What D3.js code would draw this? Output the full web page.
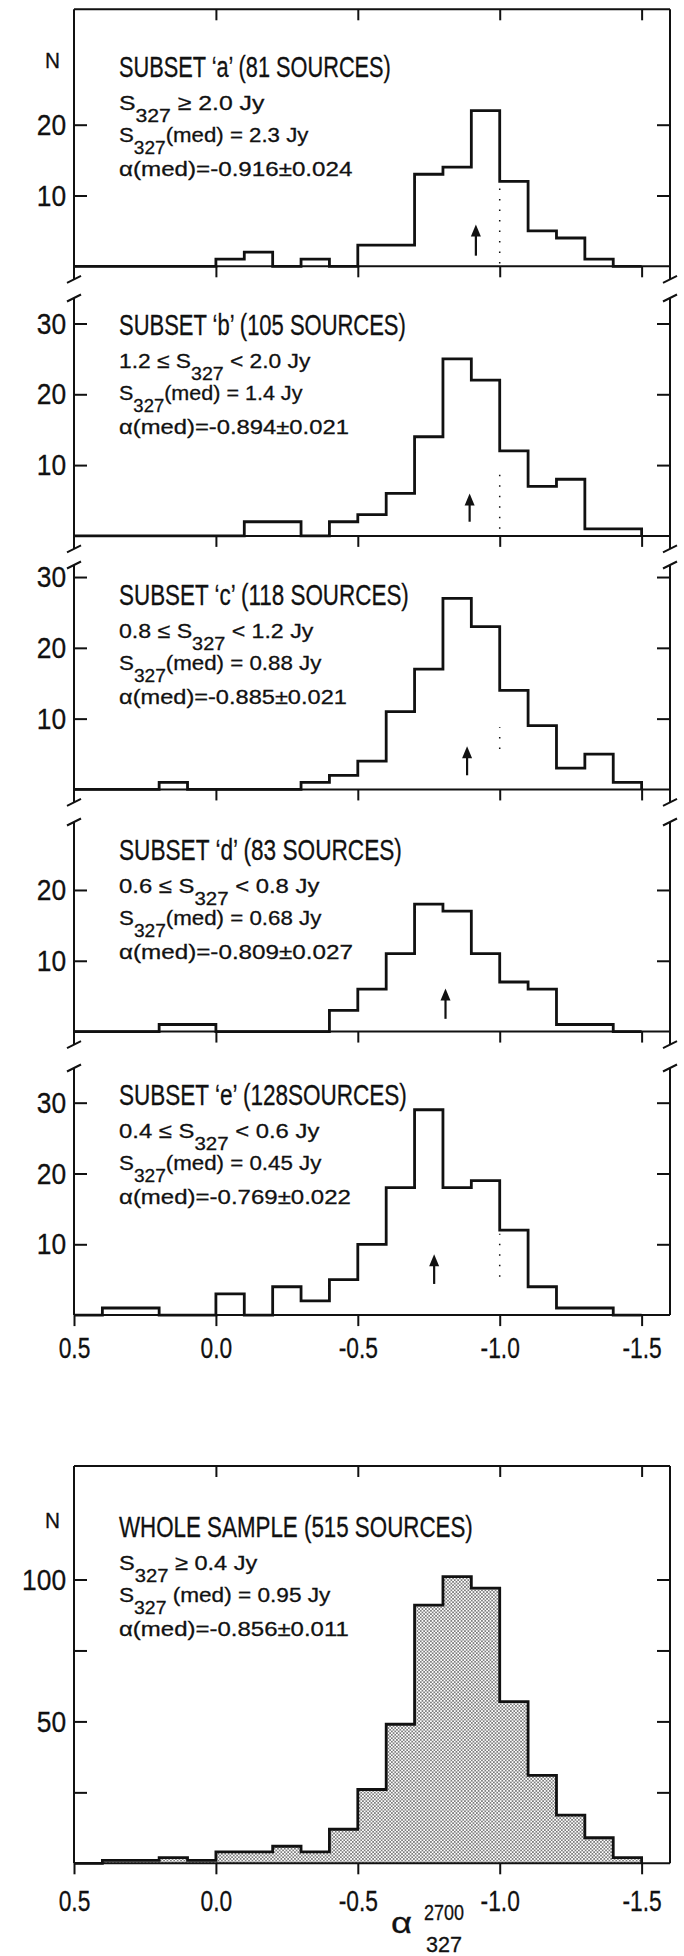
<!DOCTYPE html>
<html>
<head>
<meta charset="utf-8">
<script src="https://cdn.jsdelivr.net/npm/d3@7"></script>
<style>
  body { margin: 0; background: #fff; }
  svg { display: block; }
  text { font-family: "Liberation Sans", Arial, sans-serif; fill: #111; stroke: #111; stroke-width: 0.3; }
</style>
</head>
<body>
<svg width="684" height="1956"></svg>
<script>
// spectral index bins, 0.1 wide, running from +0.5 down to -1.5
const binEdges = d3.range(21).map(i => +(0.5 - 0.1 * i).toFixed(1));

// counts per bin (same order as binEdges)
const countsA = [0, 0, 0, 0, 0, 1, 2, 0, 1, 0, 3, 3, 13, 14, 22, 12, 5, 4, 1, 0];
const countsB = [0, 0, 0, 0, 0, 0, 2, 2, 0, 2, 3, 6, 14, 25, 22, 12, 7, 8, 1, 1];
const countsC = [0, 0, 0, 1, 0, 0, 0, 0, 1, 2, 4, 11, 17, 27, 23, 14, 9, 3, 5, 1];
const countsD = [0, 0, 0, 1, 1, 0, 0, 0, 0, 3, 6, 11, 18, 17, 11, 7, 6, 1, 1, 0];
const countsE = [0, 1, 1, 0, 0, 3, 0, 4, 2, 5, 10, 18, 29, 18, 19, 12, 4, 1, 1, 0];
const countsWhole = [0, 1, 1, 2, 1, 4, 4, 6, 4, 12, 26, 49, 91, 101, 97, 57, 31, 17, 9, 2];

const subsetCounts = [countsA, countsB, countsC, countsD, countsE];
const medians = [-0.916, -0.894, -0.885, -0.809, -0.769];
// arrow foot / tip, in counts
const arrowSpan = [[1.5, 5.9], [2, 6], [2, 6.1], [1.8, 6.1], [4.4, 8.6]];
// dotted marker at alpha = -1.0, in counts
const dotSpan = [[0.4, 11.4], [1, 9.9], [5.7, 8.8], null, [5.4, 11.5]];
const yMax = [36.3, 33.6, 31.7, 29.6, 34.9];
const yTicks = [[10, 20], [10, 20, 30], [10, 20, 30], [10, 20], [10, 20, 30]];
const wholeMax = 140;
const wholeTicks = [25, 50, 75, 100];
const xTicks = [0.5, 0, -0.5, -1, -1.5];

const titles = [
  "SUBSET \u2018a\u2019 (81 SOURCES)",
  "SUBSET \u2018b\u2019 (105 SOURCES)",
  "SUBSET \u2018c\u2019 (118 SOURCES)",
  "SUBSET \u2018d\u2019 (83 SOURCES)",
  "SUBSET \u2018e\u2019 (128SOURCES)",
  "WHOLE SAMPLE (515 SOURCES)"
];
const rangeLines = [
  ["S", "327", " \u2265 2.0 Jy"],
  ["1.2 \u2264 S", "327", " < 2.0 Jy"],
  ["0.8 \u2264 S", "327", " < 1.2 Jy"],
  ["0.6 \u2264 S", "327", " < 0.8 Jy"],
  ["0.4 \u2264 S", "327", " < 0.6 Jy"],
  ["S", "327", " \u2265 0.4 Jy"]
];
const medFluxLines = [
  ["S", "327", "(med) = 2.3 Jy"],
  ["S", "327", "(med) = 1.4 Jy"],
  ["S", "327", "(med) = 0.88 Jy"],
  ["S", "327", "(med) = 0.68 Jy"],
  ["S", "327", "(med) = 0.45 Jy"],
  ["S", "327", " (med) = 0.95 Jy"]
];
const medAlphaLines = [
  "\u03b1(med)=-0.916\u00b10.024",
  "\u03b1(med)=-0.894\u00b10.021",
  "\u03b1(med)=-0.885\u00b10.021",
  "\u03b1(med)=-0.809\u00b10.027",
  "\u03b1(med)=-0.769\u00b10.022",
  "\u03b1(med)=-0.856\u00b10.011"
];

// ---- layout ----
const ink = "#111";
const unitPx = 7.08;
const panelTop = [9.3, 298, 565, 822, 1068];
const wholeTop = 1466, wholeBase = 1863.3;
const textX = 119;
const lineOffsets = [0, 33, 65, 99];
const titleDrop = [68, 37, 40, 38, 37, 71];
// widths of the text blocks in the picture: title, range, median flux, median alpha
const textWidths = [
  [272, 146, 190, 234],
  [287, 192, 184, 230],
  [290, 195, 203, 228],
  [283, 201, 203, 234],
  [288, 201, 203, 232],
  [354, 139, 212, 230]
];

const svg = d3.select("svg");
const defs = svg.append("defs");
const pat = defs.append("pattern").attr("id", "stipple")
  .attr("patternUnits", "userSpaceOnUse").attr("width", 3.4).attr("height", 3.4);
pat.append("rect").attr("width", 3.4).attr("height", 3.4).attr("fill", "#fff");
pat.append("circle").attr("cx", 0.85).attr("cy", 0.85).attr("r", 0.8).attr("fill", "#444");
pat.append("circle").attr("cx", 2.55).attr("cy", 2.55).attr("r", 0.8).attr("fill", "#444");

const x = d3.scaleLinear().domain([0.5, -1.6]).range([74, 670]);
const fmtX = d => d.toFixed(1);

function stepPoints(counts) {
  const pts = [[binEdges[0], 0]];
  counts.forEach((c, i) => {
    pts.push([binEdges[i], c]);
    pts.push([binEdges[i + 1], c]);
  });
  pts.push([binEdges[binEdges.length - 1], 0]);
  return pts;
}

function slash(g, cx, cy) {
  g.append("path")
    .attr("d", `M${cx - 7},${cy + 3.5}L${cx + 7},${cy - 3.5}`)
    .attr("stroke", ink).attr("stroke-width", 2).attr("fill", "none");
}

function vline(g, fx, y1, y2, w) {
  g.append("line").attr("x1", fx).attr("x2", fx).attr("y1", y1).attr("y2", y2)
    .attr("stroke", ink).attr("stroke-width", w || 2);
}

// draw text at origin, then squeeze it horizontally to the measured width
function squeezeText(g, x0, y0, width, size, build) {
  const t = g.append("text").attr("font-size", size);
  build(t);
  const w = t.node().getBBox().width;
  t.attr("transform", `translate(${x0},${y0}) scale(${width / w},1)`);
}

function subLine(parts) {
  return t => {
    t.append("tspan").text(parts[0]);
    t.append("tspan").attr("dy", 12).attr("font-size", 18).text(parts[1]);
    t.append("tspan").attr("dy", -12).text(parts[2]);
  };
}

function panelText(g, i, top) {
  const y0 = top + titleDrop[i];
  const w = textWidths[i];
  squeezeText(g, textX, y0, w[0], 30, t => t.text(titles[i]));
  squeezeText(g, textX, y0 + lineOffsets[1], w[1], 21, subLine(rangeLines[i]));
  squeezeText(g, textX, y0 + lineOffsets[2], w[2], 21, subLine(medFluxLines[i]));
  squeezeText(g, textX, y0 + lineOffsets[3], w[3], 21, t => t.text(medAlphaLines[i]));
}

function styleAxis(sel, sx) {
  sel.select(".domain").remove();
  sel.selectAll(".tick line").attr("stroke", ink).attr("stroke-width", 2);
  sel.attr("font-size", 30).attr("font-family", null);
  sel.selectAll(".tick text").attr("fill", ink).attr("transform", `scale(${sx},1)`);
}

function yAxes(g, y, ticks, fmt) {
  g.append("g").attr("transform", `translate(${x.range()[0]},0)`)
    .call(d3.axisLeft(y).tickValues(ticks).tickSize(-13).tickPadding(9).tickFormat(fmt))
    .call(a => styleAxis(a, 0.88));
  g.append("g").attr("transform", `translate(${x.range()[1]},0)`)
    .call(d3.axisRight(y).tickValues(ticks).tickSize(-13).tickFormat(""))
    .call(a => styleAxis(a, 1));
}

function topTicks(g, top) {
  g.append("g").attr("transform", `translate(0,${top})`)
    .call(d3.axisTop(x).tickValues(xTicks.slice(1)).tickSize(-11).tickFormat(""))
    .call(a => styleAxis(a, 1));
}

function nLabel(g, ty) {
  squeezeText(g, 45, ty, 15, 22, t => t.text("N"));
}

const line = d3.line();

// ---- the five subsets ----
subsetCounts.forEach((counts, i) => {
  const top = panelTop[i];
  const base = top + yMax[i] * unitPx;
  const y = d3.scaleLinear().domain([0, yMax[i]]).range([base, top]);
  const g = svg.append("g");
  const first = i === 0, last = i === subsetCounts.length - 1;
  const low = last ? base : base + 13;

  x.range().forEach(fx => {
    vline(g, fx, top, low);
    if (!first) slash(g, fx, top);
    if (!last) slash(g, fx, low);
  });
  if (first) {
    g.append("line").attr("x1", x.range()[0]).attr("x2", x.range()[1])
      .attr("y1", top).attr("y2", top).attr("stroke", ink).attr("stroke-width", 2);
    topTicks(g, top);
    nLabel(g, top + 59);
  }

  yAxes(g, y, yTicks[i], d => d);

  const bottom = g.append("g").attr("transform", `translate(0,${base})`)
    .call(d3.axisBottom(x).tickValues(last ? xTicks : xTicks.slice(1))
      .tickSize(11).tickPadding(11).tickFormat(last ? fmtX : ""));
  styleAxis(bottom, 0.76);

  // baseline
  g.append("line").attr("x1", x.range()[0]).attr("x2", x.range()[1])
    .attr("y1", y(0)).attr("y2", y(0)).attr("stroke", ink).attr("stroke-width", 2);

  // histogram outline
  g.append("path")
    .attr("d", line(stepPoints(counts).map(p => [x(p[0]), y(p[1])])))
    .attr("fill", "none").attr("stroke", ink).attr("stroke-width", 2.8)
    .attr("stroke-linejoin", "miter");

  // dotted marker at alpha = -1
  if (dotSpan[i]) {
    g.append("line").attr("x1", x(-1)).attr("x2", x(-1))
      .attr("y1", y(dotSpan[i][0])).attr("y2", y(dotSpan[i][1]))
      .attr("stroke", ink).attr("stroke-width", 1.5).attr("stroke-dasharray", "1.5 9");
  }

  // median arrow
  const ax = x(medians[i]), y1 = y(arrowSpan[i][0]), y2 = y(arrowSpan[i][1]);
  g.append("line").attr("x1", ax).attr("x2", ax).attr("y1", y1).attr("y2", y2 + 8)
    .attr("stroke", ink).attr("stroke-width", 2.2);
  g.append("path").attr("d", `M${ax},${y2}L${ax - 5},${y2 + 12}L${ax + 5},${y2 + 12}Z`)
    .attr("fill", ink);

  panelText(g, i, top);
});

// ---- whole sample ----
{
  const g = svg.append("g");
  const y = d3.scaleLinear().domain([0, wholeMax]).range([wholeBase, wholeTop]);

  g.append("path")
    .attr("d", line(stepPoints(countsWhole).map(p => [x(p[0]), y(p[1])])) + "Z")
    .attr("fill", "url(#stipple)").attr("stroke", "none");

  x.range().forEach(fx => vline(g, fx, wholeTop, wholeBase));
  g.append("line").attr("x1", x.range()[0]).attr("x2", x.range()[1])
    .attr("y1", wholeTop).attr("y2", wholeTop).attr("stroke", ink).attr("stroke-width", 2);
  topTicks(g, wholeTop);
  yAxes(g, y, wholeTicks, d => (d % 50 === 0 ? d : ""));

  const bottom = g.append("g").attr("transform", `translate(0,${wholeBase})`)
    .call(d3.axisBottom(x).tickValues(xTicks).tickSize(11).tickPadding(15).tickFormat(fmtX));
  styleAxis(bottom, 0.76);

  g.append("line").attr("x1", x.range()[0]).attr("x2", x.range()[1])
    .attr("y1", y(0)).attr("y2", y(0)).attr("stroke", ink).attr("stroke-width", 2);

  g.append("path")
    .attr("d", line(stepPoints(countsWhole).map(p => [x(p[0]), y(p[1])])))
    .attr("fill", "none").attr("stroke", ink).attr("stroke-width", 2.8);

  nLabel(g, wholeTop + 62);
  panelText(g, 5, wholeTop);

  // axis title: alpha, 2700 over 327
  squeezeText(g, 391, 1933, 21, 30, t => t.text("\u03b1"));
  squeezeText(g, 424, 1920, 40, 22, t => t.text("2700"));
  squeezeText(g, 426, 1952, 36, 22, t => t.text("327"));
}
</script>
</body>
</html>
